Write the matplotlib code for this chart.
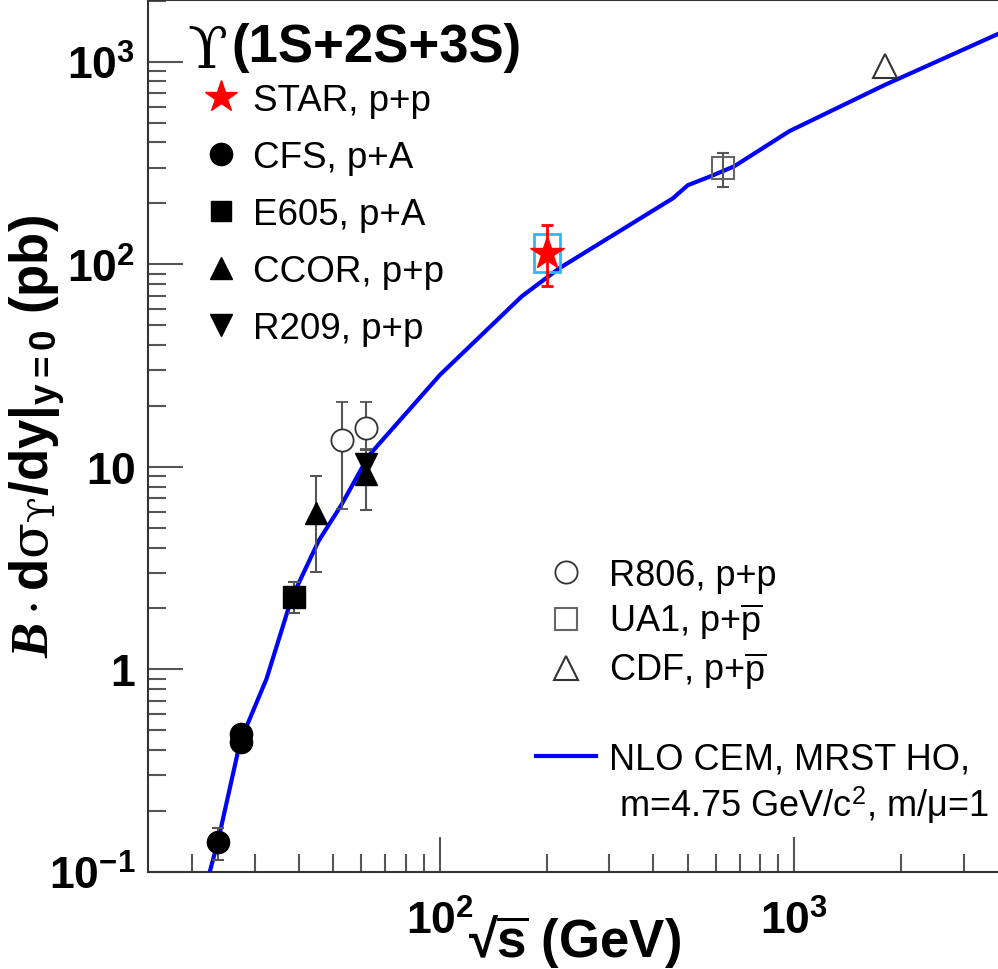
import matplotlib
matplotlib.use("Agg")
import matplotlib.pyplot as plt
from matplotlib.lines import Line2D
from matplotlib.patches import Rectangle
import numpy as np

plt.rcParams['font.family'] = ['Liberation Sans', 'DejaVu Sans']
plt.rcParams['mathtext.fontset'] = 'custom'
plt.rcParams['mathtext.rm'] = 'Liberation Sans'
plt.rcParams['mathtext.bf'] = 'Liberation Sans:bold'
plt.rcParams['mathtext.it'] = 'Liberation Serif:italic:bold'
plt.rcParams['mathtext.sf'] = 'DejaVu Serif'
plt.rcParams['mathtext.fallback'] = 'stix'

# ---------------- data ----------------
# STAR p+p
star_x = [200.0]
star_y = [114.0]
star_err_lo = [36.0]
star_err_hi = [42.0]
star_sys_lo = [22.0]
star_sys_hi = [27.0]
star_sys_xlo = [184.0]
star_sys_xhi = [218.0]

# CFS p+A
cfs_x = [23.7, 27.4, 27.4]
cfs_y = [0.14, 0.44, 0.48]
cfs_err = [0.025, 0.04, 0.04]

# E605 p+A
e605_x = [38.8]
e605_y = [2.29]
e605_err = [0.4]

# CCOR p+p
ccor_x = [44.7, 62.0]
ccor_y = [5.9, 9.2]
ccor_err_lo = [2.86, 3.1]
ccor_err_hi = [3.16, 1.5]

# R209 p+p
r209_x = [62.0]
r209_y = [10.3]
r209_err = [1.8]

# R806 p+p
r806_x = [53.0, 62.0]
r806_y = [13.6, 15.5]
r806_err_lo = [7.4, 3.3]
r806_err_hi = [7.4, 5.5]

# UA1 p+pbar
ua1_x = [630.0]
ua1_y = [298.0]
ua1_err_lo = [58.0]
ua1_err_hi = [56.0]

# CDF p+pbar
cdf_x = [1800.0]
cdf_y = [950.0]

# NLO CEM curve
nlo_x = [22.4, 23.7, 27.3, 32.4, 38.1, 45.4, 52.7, 63.0, 100.0, 170.0, 217.0,
         454.0, 500.0, 582.0, 676.0, 968.0, 1800.0, 3810.0]
nlo_y = [0.10, 0.145, 0.44, 0.90, 2.24, 4.3, 6.5, 11.4, 28.5, 69.5, 95.7,
         212.0, 246.0, 273.0, 305.0, 455.0, 770.0, 1390.0]

xlim = (15.0, 3800.0)
ylim = (0.1, 2020.0)

# ---------------- figure ----------------
W, H = 998, 970
fig = plt.figure(figsize=(W / 100, H / 100), dpi=100)
ax = fig.add_axes([148 / W, 97 / H, 1 - 148 / W + 0.002, (873 - 1) / H])
ax.set_xscale('log')
ax.set_yscale('log')
ax.set_xlim(*xlim)
ax.set_ylim(*ylim)

ekw = dict(ecolor='#555555', elinewidth=1.5, capsize=4, capthick=1.5, linestyle='none')

# curve
ax.plot(nlo_x, nlo_y, color='#0000ff', lw=3.0, zorder=3, solid_joinstyle='round')

# open markers (gray)
ax.errorbar(r806_x, r806_y, yerr=[r806_err_lo, r806_err_hi], fmt='o', ms=16,
            mfc='white', mec='#333333', mew=1.3, zorder=4, **ekw)
ax.errorbar(ua1_x, ua1_y, yerr=[ua1_err_lo, ua1_err_hi], fmt='s', ms=16,
            mfc='none', mec='#666666', mew=1.5, zorder=4, **ekw)
ax.plot(cdf_x, cdf_y, '^', ms=17, mfc='none', mec='#333333', mew=1.5, zorder=4)

# filled markers
ax.errorbar(cfs_x, cfs_y, yerr=cfs_err, fmt='o', ms=16, color='black', zorder=5, **ekw)
ax.errorbar(e605_x, e605_y, yerr=e605_err, fmt='s', ms=16, color='black', zorder=5, **ekw)
ax.errorbar(ccor_x, ccor_y, yerr=[ccor_err_lo, ccor_err_hi], fmt='^', ms=16,
            color='black', zorder=5, **ekw)
ax.errorbar(r209_x, r209_y, yerr=r209_err, fmt='v', ms=16, color='black', zorder=5, **ekw)

# STAR with systematic box
for xl, xh, y, lo, hi in zip(star_sys_xlo, star_sys_xhi, star_y, star_sys_lo, star_sys_hi):
    ax.add_patch(Rectangle((xl, y - lo), xh - xl, lo + hi, fill=False,
                           edgecolor='#33b5f5', lw=2.0, zorder=6))
ax.errorbar(star_x, star_y, yerr=[star_err_lo, star_err_hi], fmt='*', ms=25,
            color='red', ecolor='red', elinewidth=2, capsize=4, capthick=2, zorder=7)

# ---------------- axes styling ----------------
for s in ax.spines.values():
    s.set_color('#333333')
    s.set_linewidth(1.5)
ax.tick_params(which='both', direction='in', top=False, right=False, color='#555555', width=1.5)
ax.tick_params(which='major', length=25, labelsize=32)
ax.tick_params(which='minor', length=13)
ax.tick_params(axis='y', pad=9)
ax.tick_params(axis='x', pad=20)
ax.set_xticks([100, 1000])
ax.set_xticklabels([r'$\mathbf{10^{2}}$', r'$\mathbf{10^{3}}$'])
ax.set_yticks([0.1, 1, 10, 100, 1000])
ax.set_yticklabels([r'$\mathbf{10^{-1}}$', r'$\mathbf{1}$', r'$\mathbf{10}$',
                    r'$\mathbf{10^{2}}$', r'$\mathbf{10^{3}}$'])

ax.set_xlabel(r'√$\overline{\mathbf{s}}$ (GeV)', fontsize=38, fontweight='bold', va='baseline')
ax.xaxis.set_label_coords(0.5, -0.0975)
ax.set_ylabel(r'$\mathit{B}\cdot\mathbf{d}\mathsf{\sigma}_{\mathsf{ϒ}}\mathbf{/dy|_{y=0}}$ (pb)',
              fontsize=38, fontweight='bold')
ax.yaxis.set_label_coords(-0.095, 0.5)

# title
ax.text(0.046, 0.923, 'ϒ', transform=ax.transAxes, fontsize=42,
        family='DejaVu Serif', va='baseline', ha='left')
ax.text(0.098, 0.930, '(1S+2S+3S)', transform=ax.transAxes, fontsize=38,
        fontweight='bold', va='baseline', ha='left')

# legends
h1 = [Line2D([], [], marker='*', color='red', ms=24, ls='none'),
      Line2D([], [], marker='o', color='black', ms=16, ls='none'),
      Line2D([], [], marker='s', color='black', ms=15, ls='none'),
      Line2D([], [], marker='^', color='black', ms=16, ls='none'),
      Line2D([], [], marker='v', color='black', ms=16, ls='none')]
l1 = ['STAR, p+p', 'CFS, p+A', 'E605, p+A', 'CCOR, p+p', 'R209, p+p']
leg1 = ax.legend(h1, l1, loc='upper left', bbox_to_anchor=(0.0664, 0.905), fontsize=26.5,
                 frameon=False, handlelength=0.9, handletextpad=0.42, labelspacing=0.60,
                 borderpad=0, borderaxespad=0)
ax.add_artist(leg1)

blank = Line2D([], [], ls='none')
h2 = [Line2D([], [], marker='o', mfc='white', mec='#333333', mew=1.3, ms=16, ls='none'),
      Line2D([], [], marker='s', mfc='white', mec='#666666', mew=1.5, ms=16, ls='none'),
      Line2D([], [], marker='^', mfc='white', mec='#333333', mew=1.5, ms=17, ls='none'),
      blank,
      Line2D([], [], color='#0000ff', lw=3),
      blank]
l2 = ['R806, p+p', r'UA1, p+$\overline{\mathrm{p}}$', r'CDF, p+$\overline{\mathrm{p}}$', ' ',
      'NLO CEM, MRST HO,', ' m=4.75 GeV/c$^{2}$, m/μ=1']
leg2 = ax.legend(h2, l2, loc='upper left', bbox_to_anchor=(0.455, 0.360), fontsize=26,
                 frameon=False, handlelength=1.66, handletextpad=0.36, labelspacing=0.21,
                 borderpad=0, borderaxespad=0)

fig.savefig('out.png', dpi=100)
